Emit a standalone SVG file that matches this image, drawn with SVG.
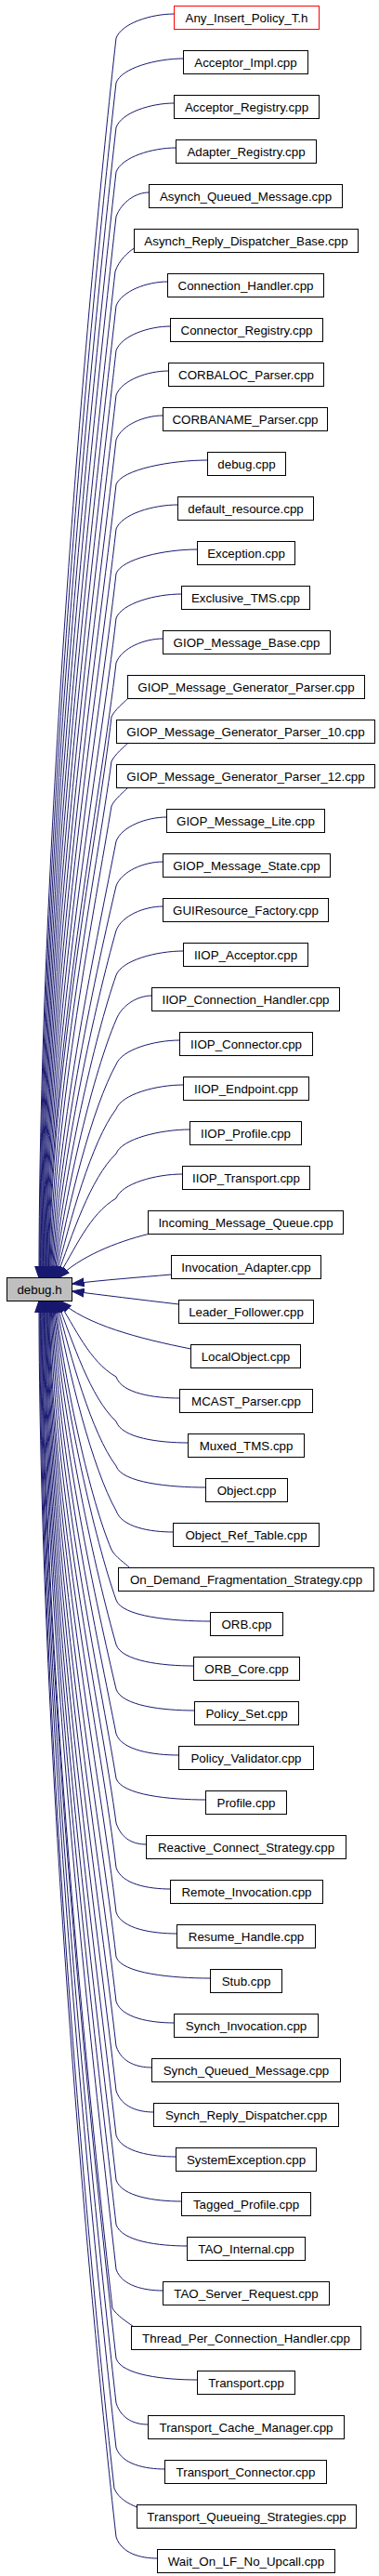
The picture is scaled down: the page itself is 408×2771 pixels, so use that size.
<svg xmlns="http://www.w3.org/2000/svg" width="408" height="2771" viewBox="0 0 408 2771">
<style>
.nd rect{fill:#ffffff;stroke:#000000;stroke-width:1}
.nd text{font-family:"Liberation Sans",Arial,sans-serif;font-size:13.33px;text-anchor:middle;fill:#000000}
.e{fill:none;stroke:#191970;stroke-width:1;marker-end:url(#arr)}
</style>
<defs>
<marker id="arr" markerUnits="userSpaceOnUse" markerWidth="14" markerHeight="10" refX="13" refY="5" orient="auto" viewBox="0 0 14 10">
<path d="M0,0.6 L13,5 L0,9.4 z" fill="#191970" stroke="#191970" stroke-width="1"/>
</marker>
</defs>
<rect width="408" height="2771" fill="#ffffff"/>
<g id="edges">
<path class="e" d="M187.5,15 C162.5,15 131,25 125,41 C95,308 42,908 42,1375"/>
<path class="e" d="M197.5,63 C168.5,63 131,73 125,89 C96,346 42.7,925 42.7,1375"/>
<path class="e" d="M187.5,111 C162.5,111 131,121 125,137 C97,385 43.5,942 43.5,1375"/>
<path class="e" d="M189.5,159 C163.7,159 131,169 125,185 C98.2,423 44.2,958.5 44.2,1375"/>
<path class="e" d="M160.5,207 C146.3,207 131,217 125,233 C99.3,461 45,975 45,1375"/>
<path class="e" d="M144.5,267 C138,271 128,280 124,292 C99.6,509 45.7,996 45.7,1375"/>
<path class="e" d="M180.5,303 C158.3,303 131,313 125,329 C101.5,538 46.4,1009 46.4,1375"/>
<path class="e" d="M183.5,351 C160.1,351 131,361 125,377 C102.5,577 47.2,1026 47.2,1375"/>
<path class="e" d="M181.5,399 C158.9,399 131,409 125,425 C103.6,615 47.9,1042.5 47.9,1375"/>
<path class="e" d="M175.5,447 C155.3,447 131,457 125,473 C104.7,653 48.7,1059 48.7,1375"/>
<path class="e" d="M223.5,495 C184.1,495 131,505 125,521 C105.8,692 49.4,1076 49.4,1375"/>
<path class="e" d="M191.5,543 C164.9,543 131,553 125,569 C106.9,730 50.1,1093 50.1,1375"/>
<path class="e" d="M212.5,591 C177.5,591 131,601 125,617 C107.9,769 50.9,1110 50.9,1375"/>
<path class="e" d="M195.5,639 C167.3,639 131,649 125,665 C109,807 51.6,1126.5 51.6,1375"/>
<path class="e" d="M175.5,687 C155.3,687 131,697 125,713 C110.1,845 52.4,1143 52.4,1375"/>
<path class="e" d="M137.5,751.5 C133,756 124,763 120,771 C106.4,892 53.1,1164 53.1,1375"/>
<path class="e" d="M137.5,799.5 C133,804 124,811 120,819 C105.1,930 55.6,1180 53.9,1375"/>
<path class="e" d="M137.5,847.5 C133,852 124,859 120,867 C103.6,969 58.1,1197 54.6,1375"/>
<path class="e" d="M179.5,879 C157.7,879 131,889 125,905 C106.8,999 60.6,1210.5 55.3,1375"/>
<path class="e" d="M175.5,927 C155.3,927 131,937 125,953 C105.3,1037 63.3,1227 56.1,1375"/>
<path class="e" d="M175.5,975 C155.3,975 131,985 125,1001 C103.7,1076 65.8,1244 56.8,1375"/>
<path class="e" d="M197.5,1023 C168.5,1023 131,1033 125,1049 C102.3,1114 68.4,1261 57.6,1375"/>
<path class="e" d="M163.5,1071 C148.3,1071 131,1081 125,1097 C100.8,1153 70.8,1278 58.3,1375"/>
<path class="e" d="M193.5,1119 C166.1,1119 131,1129 125,1145 C99.4,1191 73.3,1294.5 59,1375"/>
<path class="e" d="M197.5,1167 C168.5,1167 131,1177 125,1193 C98.2,1229 75.7,1311 59.8,1375"/>
<path class="e" d="M204.5,1215 C172.7,1215 131,1225 125,1241 C96.9,1268 78,1328 60.5,1375"/>
<path class="e" d="M196.5,1263 C167.9,1263 131,1273 125,1289 C95.8,1306 80.4,1345 61.3,1375"/>
<path class="e" d="M159.5,1327.5 C125,1336 85,1352 62.5,1375"/>
<path class="e" d="M184.5,1371 C150,1374 110,1377 77.5,1381"/>
<path class="e" d="M192.5,1403 C150,1398 110,1393 77.5,1389"/>
<path class="e" d="M205.5,1451 C150,1440 92,1425 64,1399"/>
<path class="e" d="M193.5,1504 C166.1,1504 131,1499 125,1481 C96,1464.6 81,1427.7 62,1399"/>
<path class="e" d="M202.5,1552 C171.5,1552 131,1547 125,1529 C97.1,1503 78.7,1444.5 61.2,1399"/>
<path class="e" d="M221.5,1600 C182.9,1600 131,1595 125,1577 C98.3,1541 76.4,1461 60.5,1399"/>
<path class="e" d="M186.5,1648 C161.9,1648 131,1643 125,1625 C99.6,1580 73.9,1478 59.7,1399"/>
<path class="e" d="M139.5,1686.5 C135.5,1682 124,1675 120,1667 C97.1,1613 70.7,1493 58.9,1399"/>
<path class="e" d="M226.5,1744 C185.6,1744 131,1739 125,1721 C102.3,1657 69,1512 58.2,1399"/>
<path class="e" d="M208.5,1792 C174.8,1792 131,1787 125,1769 C103.8,1695 66.5,1528.5 57.4,1399"/>
<path class="e" d="M209.5,1840 C175.4,1840 131,1835 125,1817 C105.2,1733 63.9,1545 56.6,1399"/>
<path class="e" d="M192.5,1888 C165.5,1888 131,1883 125,1865 C106.8,1772 61.2,1562 55.8,1399"/>
<path class="e" d="M221.5,1936 C182.9,1936 131,1931 125,1913 C108.4,1810 58.6,1579 55.1,1399"/>
<path class="e" d="M157.5,1984 C144.5,1984 131,1979 125,1961 C110.2,1849 55.9,1596 54.3,1399"/>
<path class="e" d="M183.5,2032 C159.8,2032 131,2027 125,2009 C111.3,1887 53.5,1612.5 53.5,1399"/>
<path class="e" d="M190.5,2080 C164.3,2080 131,2075 125,2057 C110.2,1925 52.8,1629 52.8,1399"/>
<path class="e" d="M226.5,2128 C185.9,2128 131,2123 125,2105 C109.1,1964 52,1646 52,1399"/>
<path class="e" d="M187.5,2176 C162.5,2176 131,2171 125,2153 C108,2002 51.2,1663 51.2,1399"/>
<path class="e" d="M163.5,2224 C148.1,2224 131,2219 125,2201 C107,2041 50.5,1680 50.5,1399"/>
<path class="e" d="M165.5,2272 C149.3,2272 131,2267 125,2249 C105.9,2079 49.7,1696.5 49.7,1399"/>
<path class="e" d="M189.5,2320 C163.7,2320 131,2315 125,2297 C104.8,2117 48.9,1713 48.9,1399"/>
<path class="e" d="M195.5,2368 C167.3,2368 131,2363 125,2345 C103.7,2156 48.2,1730 48.2,1399"/>
<path class="e" d="M201.5,2416 C170.9,2416 131,2411 125,2393 C102.6,2194 47.4,1747 47.4,1399"/>
<path class="e" d="M175.5,2464 C155.3,2464 131,2459 125,2441 C101.6,2233 46.6,1764 46.6,1399"/>
<path class="e" d="M143.5,2502.5 C137,2498 126,2491 121,2483 C96.6,2266 45.8,1778 45.8,1399"/>
<path class="e" d="M212.5,2560 C177.5,2560 131,2555 125,2537 C99.4,2309 45.1,1797 45.1,1399"/>
<path class="e" d="M159.5,2608 C145.7,2608 131,2603 125,2585 C98.3,2348 44.3,1814 44.3,1399"/>
<path class="e" d="M177.5,2656 C156.5,2656 131,2651 125,2633 C97.2,2386 43.5,1831 43.5,1399"/>
<path class="e" d="M147.5,2697 C138,2693 128,2688 123,2677 C94.2,2421 42.8,1846 42.8,1399"/>
<path class="e" d="M169.5,2752 C151.7,2752 131,2747 125,2729 C95.1,2463 42,1864.5 42,1399"/>
</g>
<g id="n_debug_h" class="nd"><rect x="7.5" y="1374.5" width="70" height="25" style="fill:#bfbfbf"/><text x="42.5" y="1391.5">debug.h</text></g>
<g id="n_Any_Insert_Policy_T_h" class="nd"><rect x="187.5" y="6.5" width="156" height="25" style="stroke:#ff0000"/><text x="265.5" y="23.5">Any_Insert_Policy_T.h</text></g>
<g id="n_Acceptor_Impl" class="nd"><rect x="197.5" y="54.5" width="134" height="25"/><text x="264.5" y="71.5">Acceptor_Impl.cpp</text></g>
<g id="n_Acceptor_Registry" class="nd"><rect x="187.5" y="102.5" width="156" height="25"/><text x="265.5" y="119.5">Acceptor_Registry.cpp</text></g>
<g id="n_Adapter_Registry" class="nd"><rect x="189.5" y="150.5" width="151" height="25"/><text x="265" y="167.5">Adapter_Registry.cpp</text></g>
<g id="n_Asynch_Queued_Message" class="nd"><rect x="160.5" y="198.5" width="208" height="25"/><text x="264.5" y="215.5">Asynch_Queued_Message.cpp</text></g>
<g id="n_Asynch_Reply_Dispatcher_Base" class="nd"><rect x="144.5" y="246.5" width="241" height="25"/><text x="265" y="263.5">Asynch_Reply_Dispatcher_Base.cpp</text></g>
<g id="n_Connection_Handler" class="nd"><rect x="180.5" y="294.5" width="168" height="25"/><text x="264.5" y="311.5">Connection_Handler.cpp</text></g>
<g id="n_Connector_Registry" class="nd"><rect x="183.5" y="342.5" width="164" height="25"/><text x="265.5" y="359.5">Connector_Registry.cpp</text></g>
<g id="n_CORBALOC_Parser" class="nd"><rect x="181.5" y="390.5" width="167" height="25"/><text x="265" y="407.5">CORBALOC_Parser.cpp</text></g>
<g id="n_CORBANAME_Parser" class="nd"><rect x="175.5" y="438.5" width="177" height="25"/><text x="264" y="455.5">CORBANAME_Parser.cpp</text></g>
<g id="n_debug_cpp" class="nd"><rect x="223.5" y="486.5" width="84" height="25"/><text x="265.5" y="503.5">debug.cpp</text></g>
<g id="n_default_resource" class="nd"><rect x="191.5" y="534.5" width="146" height="25"/><text x="264.5" y="551.5">default_resource.cpp</text></g>
<g id="n_Exception" class="nd"><rect x="212.5" y="582.5" width="105" height="25"/><text x="265" y="599.5">Exception.cpp</text></g>
<g id="n_Exclusive_TMS" class="nd"><rect x="195.5" y="630.5" width="138" height="25"/><text x="264.5" y="647.5">Exclusive_TMS.cpp</text></g>
<g id="n_GIOP_Message_Base" class="nd"><rect x="175.5" y="678.5" width="180" height="25"/><text x="265.5" y="695.5">GIOP_Message_Base.cpp</text></g>
<g id="n_GIOP_Message_Generator_Parser" class="nd"><rect x="137.5" y="726.5" width="255" height="25"/><text x="265" y="743.5">GIOP_Message_Generator_Parser.cpp</text></g>
<g id="n_GIOP_Message_Generator_Parser_10" class="nd"><rect x="125.5" y="774.5" width="278" height="25"/><text x="264.5" y="791.5">GIOP_Message_Generator_Parser_10.cpp</text></g>
<g id="n_GIOP_Message_Generator_Parser_12" class="nd"><rect x="125.5" y="822.5" width="278" height="25"/><text x="264.5" y="839.5">GIOP_Message_Generator_Parser_12.cpp</text></g>
<g id="n_GIOP_Message_Lite" class="nd"><rect x="179.5" y="870.5" width="170" height="25"/><text x="264.5" y="887.5">GIOP_Message_Lite.cpp</text></g>
<g id="n_GIOP_Message_State" class="nd"><rect x="175.5" y="918.5" width="180" height="25"/><text x="265.5" y="935.5">GIOP_Message_State.cpp</text></g>
<g id="n_GUIResource_Factory" class="nd"><rect x="175.5" y="966.5" width="178" height="25"/><text x="264.5" y="983.5">GUIResource_Factory.cpp</text></g>
<g id="n_IIOP_Acceptor" class="nd"><rect x="197.5" y="1014.5" width="134" height="25"/><text x="264.5" y="1031.5">IIOP_Acceptor.cpp</text></g>
<g id="n_IIOP_Connection_Handler" class="nd"><rect x="163.5" y="1062.5" width="202" height="25"/><text x="264.5" y="1079.5">IIOP_Connection_Handler.cpp</text></g>
<g id="n_IIOP_Connector" class="nd"><rect x="193.5" y="1110.5" width="143" height="25"/><text x="265" y="1127.5">IIOP_Connector.cpp</text></g>
<g id="n_IIOP_Endpoint" class="nd"><rect x="197.5" y="1158.5" width="135" height="25"/><text x="265" y="1175.5">IIOP_Endpoint.cpp</text></g>
<g id="n_IIOP_Profile" class="nd"><rect x="204.5" y="1206.5" width="120" height="25"/><text x="264.5" y="1223.5">IIOP_Profile.cpp</text></g>
<g id="n_IIOP_Transport" class="nd"><rect x="196.5" y="1254.5" width="137" height="25"/><text x="265" y="1271.5">IIOP_Transport.cpp</text></g>
<g id="n_Incoming_Message_Queue" class="nd"><rect x="159.5" y="1302.5" width="210" height="25"/><text x="264.5" y="1319.5">Incoming_Message_Queue.cpp</text></g>
<g id="n_Invocation_Adapter" class="nd"><rect x="184.5" y="1350.5" width="161" height="25"/><text x="265" y="1367.5">Invocation_Adapter.cpp</text></g>
<g id="n_Leader_Follower" class="nd"><rect x="192.5" y="1398.5" width="145" height="25"/><text x="265" y="1415.5">Leader_Follower.cpp</text></g>
<g id="n_LocalObject" class="nd"><rect x="205.5" y="1446.5" width="118" height="25"/><text x="264.5" y="1463.5">LocalObject.cpp</text></g>
<g id="n_MCAST_Parser" class="nd"><rect x="193.5" y="1494.5" width="143" height="25"/><text x="265" y="1511.5">MCAST_Parser.cpp</text></g>
<g id="n_Muxed_TMS" class="nd"><rect x="202.5" y="1542.5" width="125" height="25"/><text x="265" y="1559.5">Muxed_TMS.cpp</text></g>
<g id="n_Object" class="nd"><rect x="221.5" y="1590.5" width="88" height="25"/><text x="265.5" y="1607.5">Object.cpp</text></g>
<g id="n_Object_Ref_Table" class="nd"><rect x="186.5" y="1638.5" width="157" height="25"/><text x="265" y="1655.5">Object_Ref_Table.cpp</text></g>
<g id="n_On_Demand_Fragmentation_Strategy" class="nd"><rect x="127.5" y="1686.5" width="275" height="25"/><text x="265" y="1703.5">On_Demand_Fragmentation_Strategy.cpp</text></g>
<g id="n_ORB" class="nd"><rect x="226.5" y="1734.5" width="78" height="25"/><text x="265.5" y="1751.5">ORB.cpp</text></g>
<g id="n_ORB_Core" class="nd"><rect x="208.5" y="1782.5" width="114" height="25"/><text x="265.5" y="1799.5">ORB_Core.cpp</text></g>
<g id="n_Policy_Set" class="nd"><rect x="209.5" y="1830.5" width="112" height="25"/><text x="265.5" y="1847.5">Policy_Set.cpp</text></g>
<g id="n_Policy_Validator" class="nd"><rect x="192.5" y="1878.5" width="145" height="25"/><text x="265" y="1895.5">Policy_Validator.cpp</text></g>
<g id="n_Profile" class="nd"><rect x="221.5" y="1926.5" width="87" height="25"/><text x="265" y="1943.5">Profile.cpp</text></g>
<g id="n_Reactive_Connect_Strategy" class="nd"><rect x="157.5" y="1974.5" width="215" height="25"/><text x="265" y="1991.5">Reactive_Connect_Strategy.cpp</text></g>
<g id="n_Remote_Invocation" class="nd"><rect x="183.5" y="2022.5" width="164" height="25"/><text x="265.5" y="2039.5">Remote_Invocation.cpp</text></g>
<g id="n_Resume_Handle" class="nd"><rect x="190.5" y="2070.5" width="149" height="25"/><text x="265" y="2087.5">Resume_Handle.cpp</text></g>
<g id="n_Stub" class="nd"><rect x="226.5" y="2118.5" width="77" height="25"/><text x="265" y="2135.5">Stub.cpp</text></g>
<g id="n_Synch_Invocation" class="nd"><rect x="187.5" y="2166.5" width="155" height="25"/><text x="265" y="2183.5">Synch_Invocation.cpp</text></g>
<g id="n_Synch_Queued_Message" class="nd"><rect x="163.5" y="2214.5" width="203" height="25"/><text x="265" y="2231.5">Synch_Queued_Message.cpp</text></g>
<g id="n_Synch_Reply_Dispatcher" class="nd"><rect x="165.5" y="2262.5" width="199" height="25"/><text x="265" y="2279.5">Synch_Reply_Dispatcher.cpp</text></g>
<g id="n_SystemException" class="nd"><rect x="189.5" y="2310.5" width="151" height="25"/><text x="265" y="2327.5">SystemException.cpp</text></g>
<g id="n_Tagged_Profile" class="nd"><rect x="195.5" y="2358.5" width="139" height="25"/><text x="265" y="2375.5">Tagged_Profile.cpp</text></g>
<g id="n_TAO_Internal" class="nd"><rect x="201.5" y="2406.5" width="127" height="25"/><text x="265" y="2423.5">TAO_Internal.cpp</text></g>
<g id="n_TAO_Server_Request" class="nd"><rect x="175.5" y="2454.5" width="179" height="25"/><text x="265" y="2471.5">TAO_Server_Request.cpp</text></g>
<g id="n_Thread_Per_Connection_Handler" class="nd"><rect x="141.5" y="2502.5" width="247" height="25"/><text x="265" y="2519.5">Thread_Per_Connection_Handler.cpp</text></g>
<g id="n_Transport" class="nd"><rect x="212.5" y="2550.5" width="105" height="25"/><text x="265" y="2567.5">Transport.cpp</text></g>
<g id="n_Transport_Cache_Manager" class="nd"><rect x="159.5" y="2598.5" width="211" height="25"/><text x="265" y="2615.5">Transport_Cache_Manager.cpp</text></g>
<g id="n_Transport_Connector" class="nd"><rect x="177.5" y="2646.5" width="174" height="25"/><text x="264.5" y="2663.5">Transport_Connector.cpp</text></g>
<g id="n_Transport_Queueing_Strategies" class="nd"><rect x="147.5" y="2694.5" width="236" height="25"/><text x="265.5" y="2711.5">Transport_Queueing_Strategies.cpp</text></g>
<g id="n_Wait_On_LF_No_Upcall" class="nd"><rect x="169.5" y="2742.5" width="191" height="25"/><text x="265" y="2759.5">Wait_On_LF_No_Upcall.cpp</text></g>
</svg>
